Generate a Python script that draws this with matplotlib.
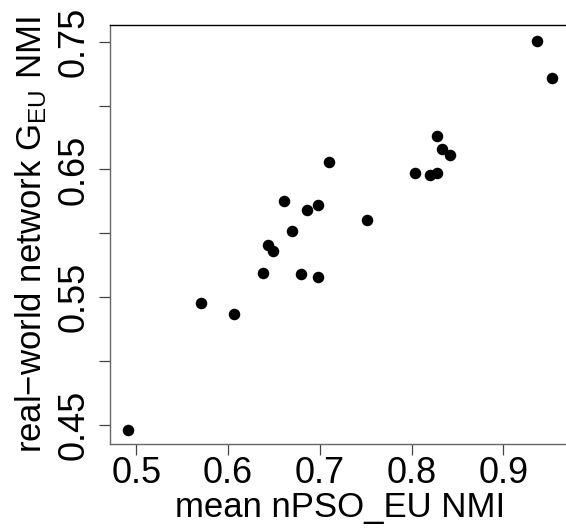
import matplotlib
matplotlib.use("Agg")
import matplotlib.pyplot as plt

plt.rcParams["font.family"] = ["Liberation Sans", "DejaVu Sans"]
plt.rcParams["mathtext.default"] = "regular"

# mean nPSO_EU NMI vs real-world network NMI
mean_npso_nmi = [0.491, 0.570, 0.607, 0.638, 0.644, 0.649, 0.661, 0.670,
                 0.680, 0.686, 0.698, 0.698, 0.710, 0.751, 0.804, 0.820,
                 0.828, 0.828, 0.833, 0.842, 0.937, 0.953]
real_nmi = [0.446, 0.545, 0.537, 0.569, 0.591, 0.586, 0.625, 0.602,
            0.568, 0.618, 0.622, 0.566, 0.656, 0.610, 0.647, 0.646,
            0.647, 0.676, 0.666, 0.661, 0.751, 0.722]
x_ticks = [0.5, 0.6, 0.7, 0.8, 0.9]
y_ticks = [0.45, 0.50, 0.55, 0.60, 0.65, 0.70, 0.75]
y_ticklabels = ["0.45", "", "0.55", "", "0.65", "", "0.75"]

W, H = 566, 529
fig = plt.figure(figsize=(W / 100, H / 100), dpi=100)
# the right edge of the box runs off the picture, as in the reference
ax = fig.add_axes([110 / W, 1 - 444 / H, 461 / W, 419 / H])

ax.plot(mean_npso_nmi, real_nmi, "o", color="black", markersize=8.3,
        markeredgewidth=0)

ax.set_xlim(0.4714, 0.9736)
ax.set_ylim(0.4348, 0.7632)
ax.set_xticks(x_ticks)
ax.set_yticks(y_ticks)
ax.set_yticklabels(y_ticklabels, rotation=90, va="center")
ax.tick_params(labelsize=26, length=8, width=0.9, direction="out",
               color="#444444")
ax.tick_params(axis="x", pad=0.5)
ax.tick_params(axis="y", pad=5)
for s in ax.spines.values():
    s.set_linewidth(1.0)
    s.set_color("black")
ax.spines["left"].set_color("#666666")
ax.spines["bottom"].set_color("#666666")

ax.set_xlabel("mean nPSO_EU NMI", fontsize=25, labelpad=0.5)
ax.set_ylabel("real\u2212world network G$_{EU}$ NMI", fontsize=25,
              labelpad=6)

fig.savefig("out.png", dpi=100)
